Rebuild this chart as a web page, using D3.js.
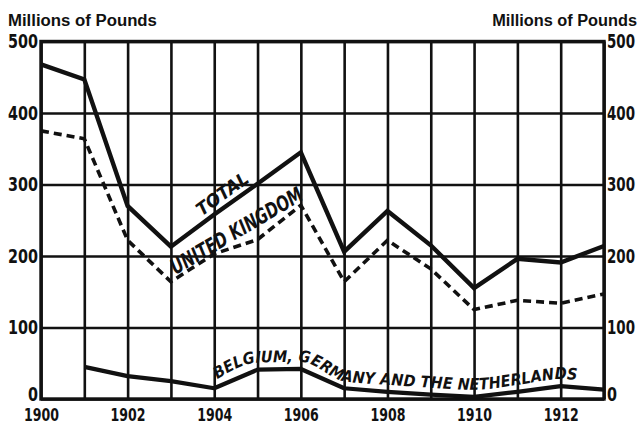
<!DOCTYPE html>
<html>
<head>
<meta charset="utf-8">
<script src="https://cdn.jsdelivr.net/npm/d3@7"></script>
<style>
  html, body { margin: 0; padding: 0; background: #fff; }
  svg { display: block; }
  text { fill: #111; }
</style>
</head>
<body>
<svg id="chart" width="640" height="426"></svg>
<script>
// Annual values, millions of pounds
const years = [1900, 1901, 1902, 1903, 1904, 1905, 1906, 1907, 1908, 1909, 1910, 1911, 1912, 1913];
const totalValues = [468, 447, 270, 213, 258, 301, 345, 206, 263, 215, 155, 196, 191, 214];
const ukValues = [375, 364, 222, 164, 203, 223, 271, 164, 222, 182, 125, 138, 134, 147];
const lowCountriesValues = [null, 45, 32, 25, 15, 41, 42, 15, 10, 6, 3, 10, 18, 13];

const yTicks = [0, 100, 200, 300, 400, 500];
const xTickLabels = [1900, 1902, 1904, 1906, 1908, 1910, 1912];
const unitLabel = "Millions of Pounds";
const totalLabel = "TOTAL";
const ukLabel = "UNITED KINGDOM";
const lowCountriesLabel = "BELGIUM, GERMANY AND THE NETHERLANDS";

const INK = "#111";
const condensed = '"DejaVu Sans Condensed", "DejaVu Sans", sans-serif';
const wide = '"Liberation Sans", "DejaVu Sans", sans-serif';

const svg = d3.select("#chart");

const x = d3.scaleLinear().domain([1900, 1913]).range([41, 604]);
const y = d3.scaleLinear().domain([0, 500]).range([399, 41.5]);

const plotW = x(1913) - x(1900);
const plotH = y(0) - y(500);

// squeeze a text horizontally to a given width, keeping its anchor
function fitWidth(sel, target) {
  sel.each(function () {
    const t = d3.select(this);
    const w = this.getComputedTextLength();
    const k = target / w;
    const ox = +t.attr("x") || 0;
    t.attr("x", ox / k).attr("transform", `scale(${k},1)`);
  });
}

// vertical grid, one per year
svg.append("g")
  .attr("transform", `translate(0,${y(0)})`)
  .call(d3.axisBottom(x).tickValues(years).tickSize(-plotH).tickFormat(""))
  .call(g => g.select(".domain").remove())
  .selectAll("line").attr("stroke", INK).attr("stroke-width", 2.6);

// horizontal grid, every hundred
svg.append("g")
  .attr("transform", `translate(${x(1900)},0)`)
  .call(d3.axisLeft(y).tickValues(yTicks).tickSize(-plotW).tickFormat(""))
  .call(g => g.select(".domain").remove())
  .selectAll("line").attr("stroke", INK).attr("stroke-width", 2.6);

// frame
svg.append("rect")
  .attr("x", x(1900)).attr("y", y(500))
  .attr("width", plotW).attr("height", plotH)
  .attr("fill", "none").attr("stroke", INK).attr("stroke-width", 3.4);

// tick labels
function styleTicks(size) {
  return g => {
    g.select(".domain").remove();
    g.selectAll("text")
      .attr("fill", INK)
      .style("font-family", condensed)
      .style("font-weight", "bold")
      .style("font-size", size + "px");
  };
}

const leftAxis = svg.append("g")
  .attr("transform", `translate(${x(1900)},0)`)
  .call(d3.axisLeft(y).tickValues(yTicks).tickSize(0).tickPadding(3))
  .call(styleTicks(20));
leftAxis.selectAll(".tick text").filter(d => d !== 0).call(fitWidth, 30);
leftAxis.selectAll(".tick text").filter(d => d === 0).call(fitWidth, 10);

const rightAxis = svg.append("g")
  .attr("transform", `translate(${x(1913)},0)`)
  .call(d3.axisRight(y).tickValues(yTicks).tickSize(0).tickPadding(3))
  .call(styleTicks(20));
rightAxis.selectAll(".tick text").filter(d => d !== 0).call(fitWidth, 28);
rightAxis.selectAll(".tick text").filter(d => d === 0).call(fitWidth, 10);

// lift the zero labels clear of the year labels
[leftAxis, rightAxis].forEach(a =>
  a.selectAll(".tick").filter(d => d === 0).select("text").attr("dy", "0.05em"));

const bottomAxis = svg.append("g")
  .attr("transform", `translate(0,${y(0)})`)
  .call(d3.axisBottom(x).tickValues(xTickLabels).tickFormat(d3.format("d")).tickSize(0).tickPadding(9))
  .call(styleTicks(18));
bottomAxis.selectAll(".tick text").call(fitWidth, 35);

// unit titles
svg.append("text")
  .attr("x", 8).attr("y", 26)
  .style("font-family", wide).style("font-weight", "bold").style("font-size", "17px")
  .text(unitLabel)
  .call(fitWidth, 149);
svg.append("text")
  .attr("x", 637).attr("y", 26).attr("text-anchor", "end")
  .style("font-family", wide).style("font-weight", "bold").style("font-size", "17px")
  .text(unitLabel)
  .call(fitWidth, 145);

// series
const rows = years.map((yr, i) => ({
  year: yr, total: totalValues[i], uk: ukValues[i], low: lowCountriesValues[i]
}));

const lineFor = key => d3.line()
  .defined(d => d[key] != null)
  .x(d => x(d.year))
  .y(d => y(d[key]));

svg.append("path").datum(rows)
  .attr("d", lineFor("total"))
  .attr("fill", "none").attr("stroke", INK).attr("stroke-width", 4.4)
  .attr("stroke-linejoin", "miter");

svg.append("path").datum(rows)
  .attr("d", lineFor("uk"))
  .attr("fill", "none").attr("stroke", INK).attr("stroke-width", 3.6)
  .attr("stroke-dasharray", "8,5");

svg.append("path").datum(rows)
  .attr("d", lineFor("low"))
  .attr("fill", "none").attr("stroke", INK).attr("stroke-width", 4.2)
  .attr("stroke-linejoin", "round");

// straight labels laid along a line segment
function valueAt(values, yr) {
  const i = Math.floor(yr - 1900);
  const t = yr - 1900 - i;
  return values[i] + (values[i + 1] - values[i]) * t;
}
function segAngle(values, y0, y1) {
  const dx = x(y1) - x(y0);
  const dy = y(values[y1 - 1900]) - y(values[y0 - 1900]);
  return Math.atan2(dy, dx) * 180 / Math.PI;
}
function slopedLabel(values, yr, from, to, label, size, len, lift) {
  const px = x(yr), py = y(valueAt(values, yr));
  const g = svg.append("g")
    .attr("transform", `translate(${px},${py}) rotate(${segAngle(values, from, to)})`);
  g.append("text")
    .attr("x", 0).attr("y", -lift)
    .attr("text-anchor", "middle")
    .style("font-family", condensed).style("font-weight", "bold")
    .style("font-style", "italic").style("font-size", size + "px")
    .text(label)
    .call(fitWidth, len);
}
slopedLabel(totalValues, 1904.35, 1903, 1906, totalLabel, 18, 60, 6);
slopedLabel(ukValues, 1904.69, 1903, 1906, ukLabel, 21, 150, 8);

// curved label following the continental series
const lowRows = rows.filter(d => d.low != null && d.year >= 1904);
const guide = svg.append("path")
  .attr("id", "low-guide")
  .attr("d", d3.line().curve(d3.curveMonotoneX).x(d => x(d.year)).y(d => y(d.low) - 7)(lowRows))
  .attr("fill", "none").attr("stroke", "none");

const node = guide.node();
const total = node.getTotalLength();
function lengthAtX(px) {
  let lo = 0, hi = total;
  for (let k = 0; k < 40; k++) {
    const mid = (lo + hi) / 2;
    if (node.getPointAtLength(mid).x < px) lo = mid; else hi = mid;
  }
  return (lo + hi) / 2;
}
const startL = lengthAtX(x(1904) + 3);
const endL = lengthAtX(x(1912.37));

const curved = svg.append("text")
  .style("font-family", condensed).style("font-weight", "bold")
  .style("font-style", "italic").style("font-size", "16px");
curved.append("textPath")
  .attr("href", "#low-guide")
  .attr("startOffset", startL)
  .text(lowCountriesLabel);
const natural = curved.node().getComputedTextLength();
const spacing = ((endL - startL) - natural) / (lowCountriesLabel.length - 1);
curved.style("letter-spacing", spacing + "px");
</script>
</body>
</html>
